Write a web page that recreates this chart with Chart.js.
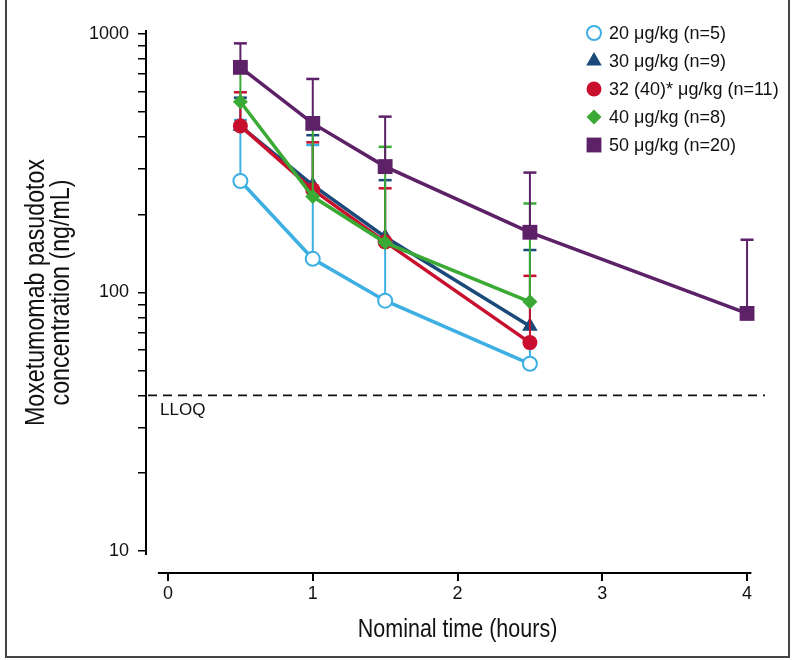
<!DOCTYPE html>
<html>
<head>
<meta charset="utf-8">
<title>Moxetumomab pasudotox concentration</title>
<script src="https://cdn.jsdelivr.net/npm/chart.js@4.4.0/dist/chart.umd.min.js"></script>
<style>
  html, body { margin: 0; padding: 0; background: #fff; }
  #wrap { position: relative; width: 793px; height: 660px; }
</style>
</head>
<body>
<div id="wrap"><canvas id="pkChart" width="793" height="660"></canvas></div>
<script>
// nominal sampling times (hours)
const times = [0.5, 1, 1.5, 2.5];
const times50 = [0.5, 1, 1.5, 2.5, 4];

// mean concentrations (ng/mL) and upper error bar ends
const dose20 = [270, 135, 93, 53];
const dose20Upper = [465, 372, 155, 63];
const dose30 = [440, 260, 164, 74];
const dose30Upper = [567, 406, 272, 146];
const dose32 = [441, 250, 157, 64];
const dose32Upper = [595, 381, 253, 116];
const dose40 = [547, 235, 156, 92];
const dose40Upper = [730, 445, 366, 221];
const dose50 = [743, 451, 307, 171, 83];
const dose50Upper = [920, 670, 479, 291, 160];

const seriesLabels = [
  "20 \u03bcg/kg (n=5)",
  "30 \u03bcg/kg (n=9)",
  "32 (40)* \u03bcg/kg (n=11)",
  "40 \u03bcg/kg (n=8)",
  "50 \u03bcg/kg (n=20)"
];

// axis ticks
const xTicks = [0, 1, 2, 3, 4];
const yTicks = [10, 20, 30, 40, 50, 60, 70, 80, 90,
                100, 200, 300, 400, 500, 600, 700, 800, 900, 1000];
const yTickLabels = [10, 100, 1000];

const xTitle = "Nominal time (hours)";
const yTitle = ["Moxetumomab pasudotox", "concentration (ng/mL)"];

const lloqValue = 40;
const lloqLabel = "LLOQ";

const FONT = "'Liberation Sans', Arial, Helvetica, sans-serif";

const COLORS = {
  lightBlue: "#3eafe3",
  navy: "#1a4a7a",
  red: "#c8102e",
  green: "#3aaa35",
  purple: "#5c2167"
};

function toPoints(xs, ys) {
  return xs.map((x, i) => ({ x: x, y: ys[i] }));
}

function makeSeries(label, xs, ys, upper, color, style, radius, fill, order) {
  return {
    label: label,
    data: toPoints(xs, ys),
    upper: upper,
    borderColor: color,
    backgroundColor: color,
    borderWidth: 3.5,
    pointStyle: style,
    pointRadius: radius,
    pointHoverRadius: radius,
    pointBackgroundColor: fill,
    pointBorderColor: color,
    pointBorderWidth: fill === "#fff" ? 2 : 0,
    tension: 0,
    order: order
  };
}

const datasets = [
  makeSeries(seriesLabels[0], times, dose20, dose20Upper, COLORS.lightBlue, "circle", 7, "#fff", 5),
  makeSeries(seriesLabels[1], times, dose30, dose30Upper, COLORS.navy, "triangle", 9, COLORS.navy, 4),
  makeSeries(seriesLabels[2], times, dose32, dose32Upper, COLORS.red, "circle", 7.5, COLORS.red, 3),
  makeSeries(seriesLabels[3], times, dose40, dose40Upper, COLORS.green, "rectRot", 7.5, COLORS.green, 2),
  makeSeries(seriesLabels[4], times50, dose50, dose50Upper, COLORS.purple, "rect", 10.5, COLORS.purple, 1)
];

// error bars, drawn just under each dataset
const errorBars = {
  id: "errorBars",
  beforeDatasetDraw(chart, args) {
    const ds = chart.data.datasets[args.index];
    if (!ds.upper) return;
    const xs = chart.scales.x, ys = chart.scales.y;
    const ctx = chart.ctx;
    ctx.save();
    ctx.strokeStyle = ds.borderColor;
    ds.data.forEach((p, i) => {
      const px = xs.getPixelForValue(p.x);
      const y0 = ys.getPixelForValue(p.y);
      const y1 = ys.getPixelForValue(ds.upper[i]);
      ctx.lineWidth = 2;
      ctx.beginPath();
      ctx.moveTo(px, y0);
      ctx.lineTo(px, y1);
      ctx.stroke();
      ctx.lineWidth = 2.5;
      ctx.beginPath();
      ctx.moveTo(px - 6.5, y1);
      ctx.lineTo(px + 6.5, y1);
      ctx.stroke();
    });
    ctx.restore();
  }
};

// LLOQ dashed line
const lloqLine = {
  id: "lloqLine",
  beforeDatasetsDraw(chart) {
    const { ctx, chartArea } = chart;
    const y = chart.scales.y.getPixelForValue(lloqValue);
    ctx.save();
    ctx.strokeStyle = "#111";
    ctx.lineWidth = 1.6;
    ctx.setLineDash([9, 6]);
    ctx.beginPath();
    ctx.moveTo(chartArea.left + 2, y);
    ctx.lineTo(chartArea.right, y);
    ctx.stroke();
    ctx.setLineDash([]);
    ctx.fillStyle = "#111";
    ctx.font = "17px " + FONT;
    ctx.textAlign = "left";
    ctx.textBaseline = "middle";
    ctx.fillText(lloqLabel, chartArea.left + 14, y + 15);
    ctx.restore();
  }
};

// axis lines, condensed axis titles, legend and frame
const decorations = {
  id: "decorations",
  afterDraw(chart) {
    const { ctx, chartArea } = chart;
    const xs = chart.scales.x, ys = chart.scales.y;
    ctx.save();
    ctx.strokeStyle = "#000";
    ctx.lineWidth = 2;
    ctx.beginPath();
    ctx.moveTo(chartArea.left, ys.getPixelForValue(1000) - 4);
    ctx.lineTo(chartArea.left, ys.getPixelForValue(10) + 4);
    ctx.stroke();
    ctx.beginPath();
    ctx.moveTo(xs.getPixelForValue(-0.07), chartArea.bottom);
    ctx.lineTo(xs.getPixelForValue(4.03), chartArea.bottom);
    ctx.stroke();

    // axis titles (narrow face emulated with a horizontal squeeze)
    ctx.fillStyle = "#111";
    ctx.textAlign = "center";
    ctx.textBaseline = "middle";
    ctx.save();
    ctx.translate((xs.getPixelForValue(0) + xs.getPixelForValue(4)) / 2, 630);
    ctx.scale(0.86, 1);
    ctx.font = "25px " + FONT;
    ctx.fillText(xTitle, 0, 0);
    ctx.restore();

    ctx.save();
    ctx.translate(37, (ys.getPixelForValue(1000) + ys.getPixelForValue(10)) / 2);
    ctx.rotate(-Math.PI / 2);
    ctx.scale(0.86, 1);
    ctx.font = "27px " + FONT;
    yTitle.forEach((line, i) => ctx.fillText(line, 0, i * 25));
    ctx.restore();

    // legend
    ctx.font = "18px " + FONT;
    ctx.textAlign = "left";
    ctx.textBaseline = "middle";
    chart.data.datasets.forEach((ds, i) => {
      const y = 33 + i * 28;
      const x = 594;
      ctx.fillStyle = ds.pointBackgroundColor;
      ctx.strokeStyle = ds.pointBorderColor;
      ctx.lineWidth = ds.pointBorderWidth;
      Chart.helpers.drawPoint(ctx, {
        pointStyle: ds.pointStyle,
        radius: ds.pointRadius,
        rotation: 0,
        borderWidth: ds.pointBorderWidth
      }, x, y);
      ctx.fillStyle = "#111";
      ctx.fillText(ds.label, 609, y + 1);
    });

    // frame
    ctx.strokeStyle = "#444";
    ctx.lineWidth = 2;
    ctx.strokeRect(6, -2, 783, 659);
    ctx.restore();
  }
};

new Chart(document.getElementById("pkChart"), {
  type: "line",
  data: { datasets: datasets },
  options: {
    responsive: false,
    animation: false,
    events: [],
    layout: { padding: { left: 15, top: 34, right: 28, bottom: 5 } },
    plugins: {
      legend: { display: false },
      tooltip: { enabled: false }
    },
    scales: {
      x: {
        type: "linear",
        min: -0.152,
        max: 4.124,
        bounds: "data",
        afterBuildTicks: s => { s.ticks = xTicks.map(v => ({ value: v })); },
        afterFit: s => { s.height = 82; },
        grid: { drawOnChartArea: false, drawTicks: true, tickLength: 8, color: "#000", lineWidth: 2 },
        border: { display: false },
        ticks: {
          maxRotation: 0,
          padding: 2,
          color: "#111",
          font: { family: FONT, size: 18 },
          callback: v => String(v)
        },
        title: { display: false }
      },
      y: {
        type: "logarithmic",
        min: 8.22,
        max: 1000,
        afterBuildTicks: s => { s.ticks = yTicks.map(v => ({ value: v })); },
        afterFit: s => { s.width = 131; },
        grid: { drawOnChartArea: false, drawTicks: true, tickLength: 8, color: "#000", lineWidth: 1.5 },
        border: { display: false },
        ticks: {
          padding: 9,
          color: "#111",
          font: { family: FONT, size: 18 },
          autoSkip: false,
          callback: v => yTickLabels.includes(v) ? String(v) : ""
        },
        title: { display: false }
      }
    }
  },
  plugins: [errorBars, lloqLine, decorations]
});
</script>
</body>
</html>
